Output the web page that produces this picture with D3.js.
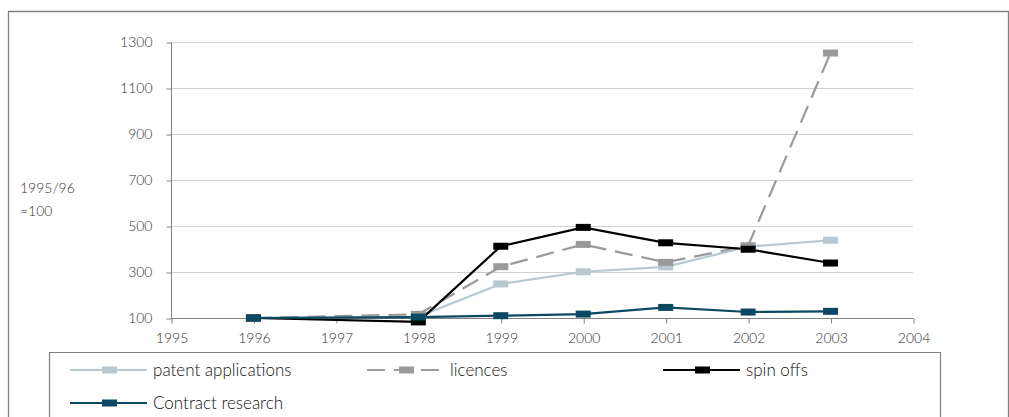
<!DOCTYPE html>
<html><head><meta charset="utf-8">
<script src="https://cdn.jsdelivr.net/npm/d3@7"></script>
<style>body{margin:0;background:#fff;}svg{display:block;font-family:Lato,"Open Sans",sans-serif;font-weight:300;}</style>
</head><body><svg id="c" width="1009" height="417"></svg>
<script>
const years = [1996,1997,1998,1999,2000,2001,2002,2003];
const xTicks = [1995,1996,1997,1998,1999,2000,2001,2002,2003,2004];
const yTicks = [100,300,500,700,900,1100,1300];
const patentApplications = [100,null,106,248,301,322,410,438];
const licences = [100,null,116,323,420,342,414,1252];
const spinOffs = [100,null,83,412,494,427,399,339];
const contractResearch = [100,null,104,110,117,146,126,129];
const seriesNames = ["patent applications","licences","spin offs","Contract research"];
const seriesColors = ["#b7c8d0","#9a9a9a","#000000","#0b4862"];
const seriesDash = [null,"18,9",null,null];
const seriesValues = [patentApplications,licences,spinOffs,contractResearch];

const FONT = 'Lato,"Open Sans",sans-serif';
const svg = d3.select("#c");
const x = d3.scaleLinear().domain([1995,2004]).range([171,913]);
const y = d3.scaleLinear().domain([100,1300]).range([318,42]);

// outer frame
svg.append("path").attr("d","M8.5,420 V11.5 H1008.5 V420").attr("fill","none").attr("stroke","#808080").attr("stroke-width",1.3);

// grid
svg.append("g").selectAll("line").data(yTicks.filter(d=>d>100)).join("line")
  .attr("x1",171).attr("x2",913).attr("y1",d=>y(d)+0.5).attr("y2",d=>y(d)+0.5)
  .attr("stroke","#cfcfcf").attr("stroke-width",1.2);

// y axis
const ya = svg.append("g").attr("transform","translate(171.5,0.5)")
  .call(d3.axisLeft(y).tickValues(yTicks).tickSize(5).tickPadding(14).tickFormat(d3.format("d")))
  .attr("font-family",FONT).attr("font-size",14);
ya.select(".domain").attr("stroke","#808080").attr("d","M0,42V318");
ya.selectAll(".tick line").attr("stroke","#808080");
ya.selectAll("text").attr("fill","#333").attr("font-weight",300);

// x axis
const xa = svg.append("g").attr("transform","translate(0.5,318.5)")
  .call(d3.axisBottom(x).tickValues(xTicks).tickSize(5).tickPadding(10).tickFormat(d3.format("d")))
  .attr("font-family",FONT).attr("font-size",14);
xa.select(".domain").attr("stroke","#808080").attr("d","M171,0H913");
xa.selectAll(".tick line").attr("stroke","#808080");
xa.selectAll("text").attr("fill","#333").attr("font-weight",300);

// y label
svg.append("text").attr("x",20).attr("y",193).attr("font-size",14).attr("fill","#333").text("1995/96");
svg.append("text").attr("x",20).attr("y",216).attr("font-size",14).attr("fill","#333").text("=100");

// series
const pts = vals => vals.map((v,i)=>({yr:years[i],v})).filter(d=>d.v!=null);
const line = d3.line().x(d=>x(d.yr)).y(d=>y(d.v));
const drawOrder = [0,1,2,3];
drawOrder.forEach(k=>{
  svg.append("path").datum(pts(seriesValues[k])).attr("d",line).attr("fill","none")
    .attr("stroke",seriesColors[k]).attr("stroke-width",2.2)
    .attr("stroke-dasharray",seriesDash[k]);
});
drawOrder.forEach(k=>{
  svg.append("g").selectAll("rect").data(pts(seriesValues[k])).join("rect")
    .attr("x",d=>x(d.yr)-7.5).attr("y",d=>y(d.v)-3.5)
    .attr("width",15).attr("height",7).attr("fill",seriesColors[k]);
});

// legend box
svg.append("path").attr("d","M49.5,420 V352.5 H940.5 V420").attr("fill","none").attr("stroke","#808080").attr("stroke-width",1.2);
const legendPos = [[70,370],[367,370],[663,370],[70,403]];
legendPos.forEach(([lx,ly],k)=>{
  const g = svg.append("g").attr("transform",`translate(${lx},${ly})`);
  g.append("line").attr("x1",0).attr("x2",77).attr("y1",0).attr("y2",0)
    .attr("stroke",seriesColors[k]).attr("stroke-width",2.2).attr("stroke-dasharray",seriesDash[k]);
  g.append("rect").attr("x",32).attr("y",-3.5).attr("width",15).attr("height",7).attr("fill",seriesColors[k]);
  g.append("text").attr("x",83).attr("y",6).attr("font-size",17).attr("fill","#111").text(seriesNames[k]);
});
</script></body></html>
